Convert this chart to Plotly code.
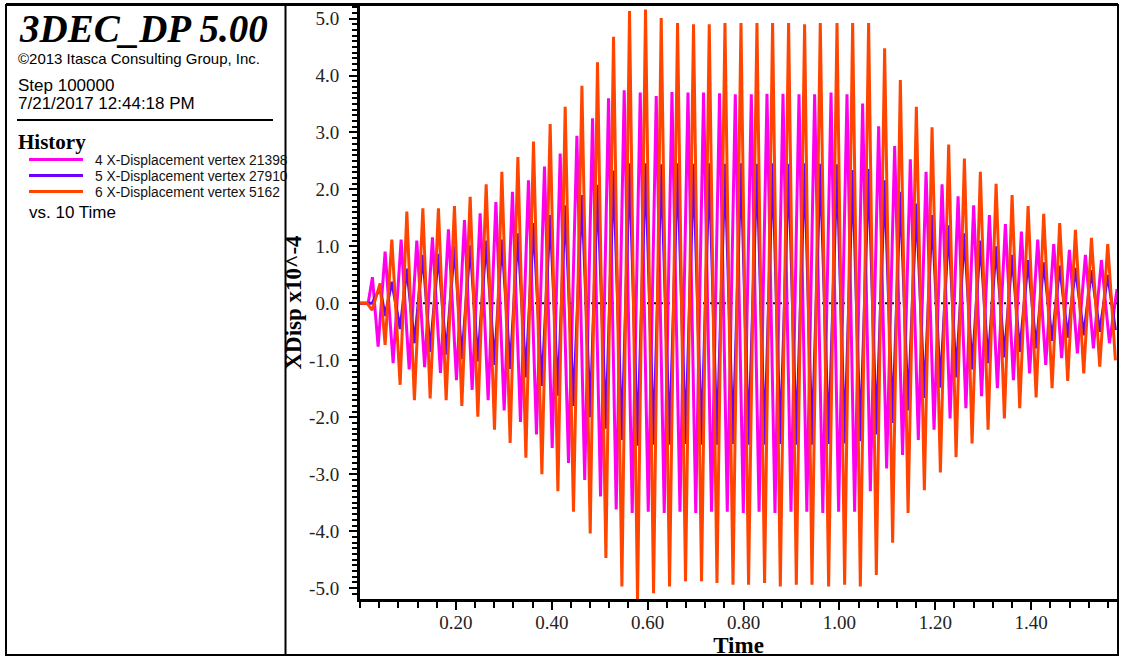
import plotly.graph_objects as go

# ---------------- data ----------------
# extremum instants shared by series 5 and 6 (time, s)
t_ext_a = [0.0, 0.0148, 0.0253, 0.0419, 0.0524, 0.0664, 0.0837, 0.0977, 0.1135, 0.1311,
           0.1463, 0.1636, 0.1797, 0.1970, 0.2124, 0.2298, 0.2458, 0.2632, 0.2805, 0.2959,
           0.3132, 0.3293, 0.3460, 0.3619, 0.3794, 0.3967, 0.4128, 0.4280, 0.4453, 0.4629,
           0.4802, 0.4954, 0.5129, 0.5288, 0.5463, 0.5622, 0.5789, 0.5956, 0.6123, 0.6283,
           0.6457, 0.6624, 0.6790, 0.6957, 0.7124, 0.7285, 0.7446, 0.7613, 0.7780, 0.7947,
           0.8105, 0.8280, 0.8439, 0.8606, 0.8767, 0.8940, 0.9101, 0.9274, 0.9428, 0.9601,
           0.9775, 0.9950, 1.0109, 1.0276, 1.0436, 1.0609, 1.0770, 1.0943, 1.1110, 1.1271,
           1.1432, 1.1605, 1.1772, 1.1932, 1.2106, 1.2279, 1.2433, 1.2607, 1.2767, 1.2940,
           1.3101, 1.3268, 1.3441, 1.3602, 1.3761, 1.3936, 1.4103, 1.4261, 1.4436, 1.4595,
           1.4762, 1.4923, 1.5096, 1.5257, 1.5430, 1.5597, 1.5757]

# extremum instants of series 4
t_ext_b = [0.0, 0.0170, 0.0259, 0.0378, 0.0524, 0.0691, 0.0858, 0.1025, 0.1185, 0.1348,
           0.1511, 0.1678, 0.1845, 0.2012, 0.2179, 0.2339, 0.2506, 0.2673, 0.2834, 0.3007,
           0.3180, 0.3347, 0.3514, 0.3681, 0.3848, 0.4009, 0.4176, 0.4349, 0.4524, 0.4687,
           0.4850, 0.5017, 0.5184, 0.5344, 0.5511, 0.5678, 0.5845, 0.6012, 0.6179, 0.6346,
           0.6507, 0.6674, 0.6841, 0.7003, 0.7166, 0.7333, 0.7500, 0.7661, 0.7828, 0.7995,
           0.8162, 0.8324, 0.8489, 0.8656, 0.8823, 0.8990, 0.9157, 0.9320, 0.9483, 0.9653,
           0.9825, 0.9983, 1.0158, 1.0317, 1.0484, 1.0645, 1.0818, 1.0985, 1.1152, 1.1317,
           1.1479, 1.1646, 1.1807, 1.1974, 1.2141, 1.2308, 1.2475, 1.2638, 1.2800, 1.2965,
           1.3128, 1.3295, 1.3462, 1.3629, 1.3796, 1.3967, 1.4136, 1.4303, 1.4470, 1.4635,
           1.4797, 1.4964, 1.5131, 1.5298, 1.5465, 1.5632, 1.5790]

# 4 X-Displacement vertex 21398  (x1e-4)
disp_21398 = [0, 0, 0.46, -0.76, 0.91, -1.05, 1.12, -1.16, 1.10, -1.12,
              1.16, -1.22, 1.30, -1.35, 1.46, -1.52, 1.58, -1.70, 1.78, -1.88,
              1.96, -2.08, 2.16, -2.30, 2.40, -2.54, 2.63, -2.80, 2.94, -3.10,
              3.25, -3.39, 3.60, -3.62, 3.74, -3.68, 3.70, -3.66, 3.64, -3.68,
              3.71, -3.66, 3.70, -3.68, 3.70, -3.66, 3.69, -3.66, 3.67, -3.68,
              3.67, -3.66, 3.68, -3.68, 3.68, -3.66, 3.67, -3.66, 3.67, -3.68,
              3.70, -3.66, 3.67, -3.66, 3.51, -3.30, 3.11, -2.90, 2.76, -2.66,
              2.53, -2.40, 2.31, -2.22, 2.09, -2.02, 1.88, -1.84, 1.72, -1.63,
              1.55, -1.49, 1.39, -1.35, 1.26, -1.23, 1.12, -1.08, 1.04, -0.96,
              0.94, -0.88, 0.85, -0.79, 0.76, -0.70, 0.25]

# 5 X-Displacement vertex 27910
disp_27910 = [0, 0, 0.0, 0.27, -0.22, 0.38, -0.45, 0.61, -0.70, 0.85,
              -0.85, 0.87, -0.90, 1.00, -0.98, 1.02, -1.02, 1.10, -1.08, 1.12,
              -1.15, 1.23, -1.30, 1.41, -1.45, 1.55, -1.62, 1.72, -1.80, 1.90,
              -2.00, 2.08, -2.20, 2.33, -2.40, 2.46, -2.50, 2.46, -2.48, 2.44,
              -2.48, 2.46, -2.47, 2.45, -2.48, 2.46, -2.48, 2.45, -2.47, 2.46,
              -2.48, 2.45, -2.48, 2.46, -2.47, 2.45, -2.48, 2.46, -2.48, 2.45,
              -2.47, 2.44, -2.46, 2.34, -2.42, 2.36, -2.30, 2.16, -2.10, 1.96,
              -1.88, 1.75, -1.66, 1.55, -1.48, 1.37, -1.30, 1.23, -1.16, 1.10,
              -1.05, 1.00, -0.95, 0.85, -0.85, 0.76, -0.79, 0.72, -0.66, 0.66,
              -0.60, 0.62, -0.56, 0.58, -0.50, 0.50, -0.47]

# 6 X-Displacement vertex 5162
disp_5162 = [0, 0, -0.12, 0.35, -0.73, 1.12, -1.43, 1.61, -1.70, 1.67,
             -1.67, 1.67, -1.70, 1.71, -1.80, 1.87, -1.99, 2.09, -2.22, 2.31,
             -2.45, 2.57, -2.71, 2.84, -3.00, 3.15, -3.30, 3.45, -3.66, 3.82,
             -4.04, 4.23, -4.47, 4.68, -4.97, 5.13, -5.23, 5.16, -5.09, 5.01,
             -4.97, 4.92, -4.88, 4.90, -4.88, 4.90, -4.91, 4.92, -4.94, 4.92,
             -4.94, 4.92, -4.91, 4.92, -4.97, 4.92, -4.94, 4.90, -4.94, 4.92,
             -4.97, 4.92, -4.94, 4.92, -4.97, 4.92, -4.77, 4.48, -4.20, 3.92,
             -3.68, 3.45, -3.28, 3.09, -2.97, 2.79, -2.70, 2.54, -2.46, 2.31,
             -2.22, 2.10, -2.02, 1.90, -1.84, 1.71, -1.65, 1.57, -1.49, 1.41,
             -1.36, 1.29, -1.23, 1.15, -1.11, 1.04, -1.00]

series_names = ["4 X-Displacement vertex 21398",
                "5 X-Displacement vertex 27910",
                "6 X-Displacement vertex 5162"]
series_colors = ["#ff00ee", "#6a00ff", "#ff4500"]

x_ticks = [0.20, 0.40, 0.60, 0.80, 1.00, 1.20, 1.40]
x_tick_labels = ["0.20", "0.40", "0.60", "0.80", "1.00", "1.20", "1.40"]
y_ticks = [-5, -4, -3, -2, -1, 0, 1, 2, 3, 4, 5]
y_tick_labels = ["-5.0", "-4.0", "-3.0", "-2.0", "-1.0", "0.0", "1.0", "2.0", "3.0", "4.0", "5.0"]

# ---------------- layout helpers ----------------
W, H = 1121, 658
ML, MR, MT, MB = 360, 4, 6, 59
PW, PH = W - ML - MR, H - MT - MB


def px_x(px):
    return (px - ML) / PW


def px_y(py):
    return (H - MB - py) / PH


SERIF = "Liberation Serif, Times New Roman, serif"
SANS = "Liberation Sans, Arial, sans-serif"

fig = go.Figure()
series = [(t_ext_b, disp_21398), (t_ext_a, disp_27910), (t_ext_a, disp_5162)]
for (tt, vv), name, col in zip(series, series_names, series_colors):
    fig.add_trace(go.Scatter(x=tt, y=vv, mode="lines", name=name,
                             line=dict(color=col, width=3), showlegend=False))

shapes = []
# dotted zero line
shapes.append(dict(type="line", xref="paper", yref="y", x0=0, x1=1, y0=0, y1=0,
                   line=dict(color="black", width=2, dash="2px,5px"), layer="below"))
# outer frame
shapes.append(dict(type="rect", xref="paper", yref="paper", x0=px_x(6), x1=px_x(1118),
                   y0=px_y(655), y1=px_y(5), line=dict(color="black", width=2)))
shapes.append(dict(type="line", xref="paper", yref="paper", x0=px_x(6), x1=px_x(1118),
                   y0=px_y(4.5), y1=px_y(4.5), line=dict(color="black", width=3)))
# divider between info panel and plot
shapes.append(dict(type="line", xref="paper", yref="paper", x0=px_x(285.5), x1=px_x(285.5),
                   y0=px_y(655), y1=px_y(5), line=dict(color="black", width=2)))
# rule in info panel
shapes.append(dict(type="line", xref="paper", yref="paper", x0=px_x(17), x1=px_x(273),
                   y0=px_y(120), y1=px_y(120), line=dict(color="black", width=2)))
# legend samples
legend_y = [159.5, 175.5, 191.5]
for ly, col in zip(legend_y, series_colors):
    shapes.append(dict(type="line", xref="paper", yref="paper", x0=px_x(29), x1=px_x(83),
                       y0=px_y(ly), y1=px_y(ly), line=dict(color=col, width=3)))

annotations = []


def add_text(text, x, y, size, family=SANS, weight="normal", style="normal", color="black"):
    annotations.append(dict(text=text, xref="paper", yref="paper", x=px_x(x), y=px_y(y),
                            xanchor="left", yanchor="middle", showarrow=False,
                            font=dict(family=family, size=size, color=color,
                                      weight=weight, style=style)))


add_text("3DEC_DP 5.00", 17, 28, 39, family=SERIF, weight="bold", style="italic")
add_text("©2013 Itasca Consulting Group, Inc.", 16, 59, 15)
add_text("Step 100000", 16, 86, 17)
add_text("7/21/2017 12:44:18 PM", 16, 104, 17)
add_text("History", 16, 142, 21, family=SERIF, weight="bold")
for ly, name in zip(legend_y, series_names):
    add_text(name, 93, ly + 1, 13.8, color="#111")
add_text("vs. 10 Time", 27, 212, 17)

fig.update_layout(
    width=W, height=H, autosize=False,
    margin=dict(l=ML, r=MR, t=MT, b=MB, pad=0),
    paper_bgcolor="white", plot_bgcolor="white",
    shapes=shapes, annotations=annotations, showlegend=False,
    xaxis=dict(range=[0, 1.579], tickmode="array", tickvals=x_ticks, ticktext=x_tick_labels,
               ticks="outside", ticklen=8, tickwidth=2, tickcolor="black",
               showline=True, linewidth=3, linecolor="black", showgrid=False, zeroline=False,
               tickfont=dict(family=SERIF, size=19, color="#222"), ticklabelstandoff=-4,
               minor=dict(tickmode="linear", tick0=0, dtick=0.04, ticks="outside",
                          ticklen=6, tickwidth=2, tickcolor="black", showgrid=False),
               title=dict(text="Time", standoff=0,
                          font=dict(family=SERIF, size=23, color="black", weight="bold"))),
    yaxis=dict(range=[-5.19, 5.22], tickmode="array", tickvals=y_ticks, ticktext=y_tick_labels,
               ticks="outside", ticklen=8, tickwidth=2, tickcolor="black",
               showline=True, linewidth=3, linecolor="black", showgrid=False, zeroline=False,
               tickfont=dict(family=SERIF, size=19, color="#222"), ticklabelstandoff=6,
               minor=dict(tickmode="linear", tick0=0, dtick=0.1, ticks="outside",
                          ticklen=5, tickwidth=2, tickcolor="black", showgrid=False),
               title=dict(text="XDisp x10^-4", standoff=2,
                          font=dict(family=SERIF, size=23, color="black", weight="bold"))),
)

fig.write_html("out.html", config={"displayModeBar": False},
               post_script="document.body.style.margin='0';document.body.style.overflow='hidden';")
